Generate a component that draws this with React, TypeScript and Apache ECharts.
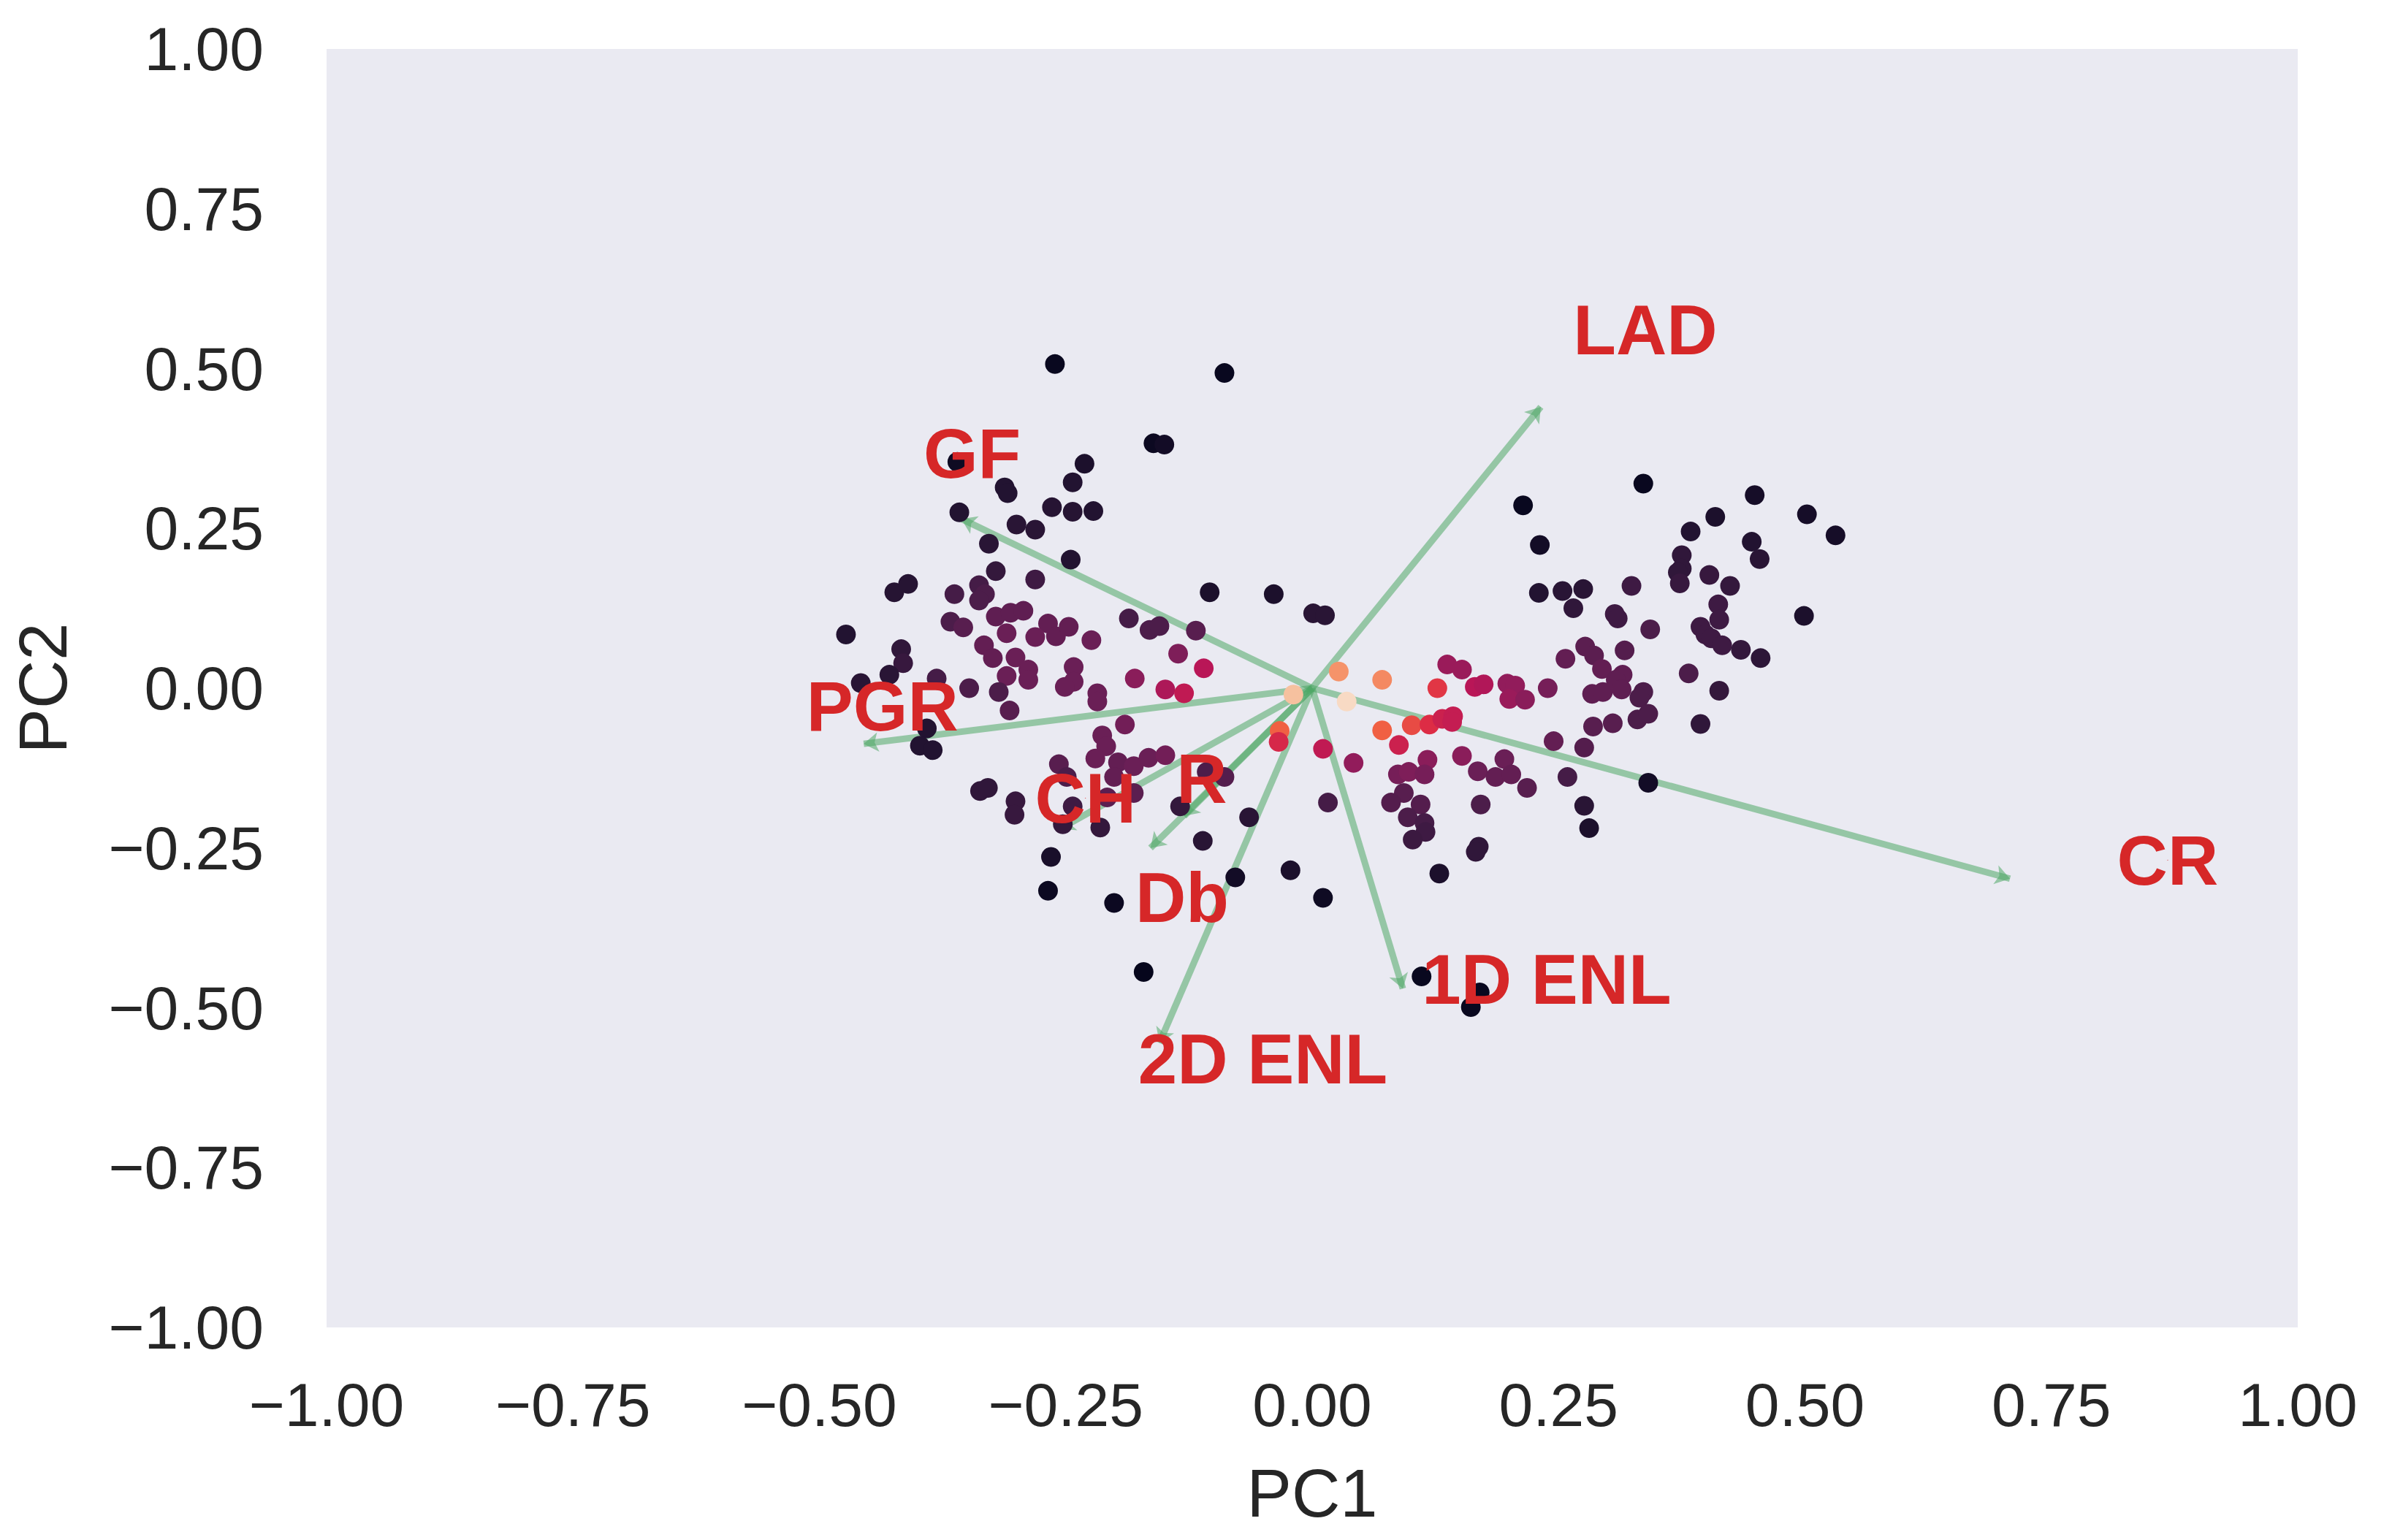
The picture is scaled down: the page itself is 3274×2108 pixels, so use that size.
import React, { useEffect, useRef } from "react";
import * as echarts from "echarts";

// PCA scores (PC1, PC2) and the colour variable (0..1 on the rocket scale)
const scoreX = [
  -0.261, -0.36, -0.312, -0.309, -0.231, -0.243, -0.358, -0.264, -0.243, -0.222,
  -0.3, -0.281, -0.328, -0.245, -0.321, -0.281, -0.424, -0.41, -0.363, -0.338,
  -0.332, -0.338, -0.473, -0.367, -0.354, -0.321, -0.306, -0.293, -0.31, -0.268,
  -0.281, -0.26, -0.247, -0.224, -0.186, -0.165, -0.155, -0.417, -0.415, -0.333,
  -0.324, -0.301, -0.288, -0.288, -0.31, -0.242, -0.242, -0.251, -0.18, -0.149,
  -0.429, -0.458, -0.381, -0.348, -0.318, -0.161, -0.15,
  -0.089, -0.104, -0.039, 0.001, 0.013, -0.118, -0.136, -0.11, -0.13, 0.027,
  0.071, 0.137, 0.152, 0.127, 0.165, 0.174, 0.198, 0.206, 0.2, 0.216,
  0.336, 0.214, 0.449, 0.409, 0.384, 0.502, 0.531, 0.231, 0.446, 0.454,
  0.375, 0.375, 0.371, 0.373, 0.403, 0.424, 0.23, 0.254, 0.275, 0.265,
  0.324, 0.307, 0.31, 0.343, 0.412, 0.413, 0.394, 0.399, 0.405, 0.416,
  0.435, 0.455, 0.499, 0.277, 0.286, 0.257, 0.317, 0.294, 0.315, 0.308,
  0.382, 0.239, 0.336, 0.332, 0.413, 0.284, 0.295, 0.314,
  0.285, 0.305, 0.33, 0.341, 0.394, 0.245, 0.276, 0.218, 0.259, 0.341, 0.276, 0.281,
  -0.019, 0.035, -0.033, -0.034, 0.011, 0.042, 0.071, 0.101, 0.088, 0.119,
  0.132, 0.143, 0.142, 0.117, 0.087, 0.098, 0.114, 0.152, 0.168, 0.186,
  0.195, 0.202, 0.093, 0.08, 0.11, 0.097, 0.114, 0.115, 0.102, 0.171,
  0.169, 0.166, 0.129, 0.016, -0.022, 0.011, -0.064, -0.111, -0.078, -0.134,
  -0.107, -0.089, 0.111, 0.17, 0.161,
  -0.307, -0.218, -0.218, -0.19, -0.213, -0.209, -0.22, -0.197, -0.181, -0.166,
  -0.149, -0.201, -0.181, -0.208, -0.257, -0.249, -0.243, -0.253, -0.215, -0.391,
  -0.398, -0.385, -0.337, -0.329, -0.301, -0.302, -0.265, -0.268, -0.201, -0.171,
];
const scoreY = [
  0.507, 0.354, 0.314, 0.305, 0.351, 0.322, 0.275, 0.283, 0.276, 0.277,
  0.256, 0.248, 0.226, 0.201, 0.183, 0.17, 0.15, 0.163, 0.147, 0.161,
  0.147, 0.137, 0.084, 0.104, 0.095, 0.112, 0.118, 0.121, 0.086, 0.101,
  0.08, 0.081, 0.096, 0.075, 0.109, 0.091, 0.097, 0.061, 0.039, 0.067,
  0.047, 0.048, 0.029, 0.013, 0.019, 0.033, 0.01, 0.002, 0.015, -0.002,
  0.021, 0.008, 0.015, 0.0, -0.006, 0.383, 0.381,
  0.493, 0.15, 0.147, 0.117, 0.114, 0.09, 0.054, 0.031, -0.008, 0.026,
  0.013, 0.037, 0.029, 0.0, 0.002, 0.006, 0.007, 0.004, -0.017, -0.018,
  0.32, 0.286, 0.302, 0.268, 0.245, 0.272, 0.239, 0.224, 0.229, 0.202,
  0.208, 0.187, 0.181, 0.164, 0.177, 0.16, 0.149, 0.152, 0.155, 0.125,
  0.16, 0.116, 0.109, 0.092, 0.131, 0.107, 0.096, 0.084, 0.078, 0.067,
  0.06, 0.047, 0.113, 0.065, 0.051, 0.046, 0.059, 0.03, 0.021, 0.013,
  0.023, 0.0, -0.006, -0.015, -0.004, -0.009, -0.006, -0.002,
  -0.06, -0.055, -0.049, -0.04, -0.056, -0.083, -0.093, -0.156, -0.139, -0.148, -0.184, -0.219,
  -0.01, -0.021, -0.067, -0.084, -0.095, -0.117, -0.066, -0.058, -0.089, -0.057,
  -0.048, -0.044, -0.053, -0.112, -0.135, -0.131, -0.135, -0.106, -0.13, -0.139,
  -0.111, -0.135, -0.164, -0.179, -0.182, -0.202, -0.211, -0.225, -0.237, -0.182,
  -0.248, -0.256, -0.29, -0.179, -0.285, -0.328, -0.202, -0.239, -0.296, -0.185,
  -0.131, -0.139, -0.451, -0.476, -0.499,
  -0.035, -0.008, -0.021, -0.057, -0.074, -0.091, -0.11, -0.116, -0.122, -0.109,
  -0.105, -0.139, -0.164, -0.171, -0.119, -0.139, -0.185, -0.213, -0.218, -0.063,
  -0.09, -0.097, -0.161, -0.156, -0.177, -0.198, -0.264, -0.317, -0.336, -0.444,
];
const scoreShade = [
  0.02, 0.04, 0.1, 0.1, 0.08, 0.1, 0.1, 0.11, 0.11, 0.1,
  0.12, 0.12, 0.12, 0.1, 0.15, 0.18, 0.11, 0.11, 0.2, 0.2,
  0.22, 0.22, 0.1, 0.22, 0.25, 0.27, 0.27, 0.27, 0.3, 0.28,
  0.3, 0.28, 0.28, 0.3, 0.2, 0.22, 0.22, 0.14, 0.16, 0.28,
  0.28, 0.3, 0.3, 0.3, 0.3, 0.3, 0.3, 0.3, 0.38, 0.47,
  0.12, 0.12, 0.2, 0.22, 0.22, 0.03, 0.05,
  0.02, 0.08, 0.08, 0.12, 0.12, 0.25, 0.35, 0.5, 0.52, 0.8,
  0.78, 0.42, 0.42, 0.62, 0.5, 0.48, 0.4, 0.4, 0.42, 0.38,
  0.02, 0.02, 0.06, 0.08, 0.1, 0.06, 0.06, 0.05, 0.1, 0.12,
  0.14, 0.14, 0.14, 0.16, 0.16, 0.15, 0.1, 0.12, 0.12, 0.14,
  0.18, 0.18, 0.18, 0.22, 0.18, 0.18, 0.18, 0.18, 0.18, 0.18,
  0.15, 0.13, 0.08, 0.26, 0.26, 0.28, 0.24, 0.28, 0.27, 0.27,
  0.22, 0.33, 0.22, 0.22, 0.15, 0.27, 0.27, 0.27,
  0.25, 0.25, 0.22, 0.22, 0.14, 0.28, 0.24, 0.25, 0.2, 0.05, 0.12, 0.08,
  0.9, 0.96, 0.7, 0.58, 0.52, 0.4, 0.7, 0.66, 0.55, 0.6,
  0.55, 0.53, 0.53, 0.38, 0.33, 0.35, 0.33, 0.38, 0.3, 0.28,
  0.3, 0.28, 0.25, 0.24, 0.24, 0.22, 0.2, 0.18, 0.17, 0.22,
  0.14, 0.14, 0.08, 0.2, 0.08, 0.04, 0.12, 0.12, 0.05, 0.15,
  0.22, 0.24, 0.02, 0.02, 0.02,
  0.25, 0.3, 0.3, 0.32, 0.3, 0.3, 0.3, 0.28, 0.3, 0.3,
  0.32, 0.28, 0.26, 0.26, 0.25, 0.22, 0.18, 0.15, 0.15, 0.1,
  0.1, 0.1, 0.14, 0.14, 0.16, 0.16, 0.07, 0.03, 0.03, 0.01,
];

// Loading vectors and where their names are written
const featureNames = ["GF", "PGR", "LAD", "CR", "1D ENL", "2D ENL", "Db", "CH", "R"];
const loadingX = [-0.356, -0.455, 0.232, 0.708, 0.092, -0.155, -0.164, -0.256, -0.13];
const loadingY = [0.265, -0.087, 0.44, -0.298, -0.47, -0.555, -0.25, -0.22, -0.2];
const labelX = [-0.345, -0.436, 0.338, 0.868, 0.238, -0.05, -0.132, -0.23, -0.112];
const labelY = [0.367, -0.028, 0.561, -0.269, -0.455, -0.58, -0.327, -0.172, -0.141];

const axisMin = -1;
const axisMax = 1;
const axisStep = 0.25;

const rocket = [
  "#03051A", "#221331", "#451C47", "#6A1F56", "#921C5B", "#B91657",
  "#DD2C45", "#F06043", "#F5936A", "#F6C19F", "#FAEBDD",
];

const FONT = "'Liberation Sans', Arial, Helvetica, sans-serif";
const fmt = (v: number) => (v < 0 ? "\u2212" : "") + Math.abs(v).toFixed(2);

export default function App() {
  const ref = useRef<HTMLDivElement>(null);
  useEffect(() => {
    if (!ref.current) return;
    const chart = echarts.init(ref.current, undefined, { renderer: "svg" });
    const points = scoreX.map((x, i) => [x, scoreY[i], scoreShade[i]]);
    const arrows = featureNames.map((n, i) => ({
      name: n,
      coords: [
        [0, 0],
        [loadingX[i], loadingY[i]],
      ],
    }));
    const labels = featureNames.map((n, i) => ({ name: n, value: [labelX[i], labelY[i]] }));
    const axisCommon = {
      type: "value",
      min: axisMin,
      max: axisMax,
      interval: axisStep,
      axisLine: { show: false },
      axisTick: { show: false },
      splitLine: { show: false },
      nameLocation: "middle",
      nameTextStyle: { fontSize: 92, color: "#262626", fontFamily: FONT },
    };
    chart.setOption({
      animation: false,
      backgroundColor: "#ffffff",
      grid: {
        left: 447,
        right: 129,
        top: 67,
        bottom: 291,
        show: true,
        backgroundColor: "#EAEAF2",
        borderWidth: 0,
      },
      xAxis: {
        ...axisCommon,
        name: "PC1",
        nameGap: 181,
        axisLabel: { fontSize: 84, color: "#262626", fontFamily: FONT, margin: 64, formatter: fmt },
      },
      yAxis: {
        ...axisCommon,
        name: "PC2",
        nameGap: 342,
        axisLabel: { fontSize: 84, color: "#262626", fontFamily: FONT, margin: 86, formatter: fmt },
      },
      visualMap: {
        show: false,
        type: "continuous",
        min: 0,
        max: 1,
        dimension: 2,
        seriesIndex: 0,
        inRange: { color: rocket },
      },
      series: [
        {
          type: "scatter",
          data: points,
          symbolSize: 27,
          silent: true,
          itemStyle: { opacity: 1 },
        },
        {
          type: "lines",
          coordinateSystem: "cartesian2d",
          data: arrows,
          silent: true,
          symbol: ["none", "arrow"],
          symbolSize: 20,
          lineStyle: { color: "#4FA866", width: 9, opacity: 0.55, curveness: 0 },
        },
        {
          type: "scatter",
          data: labels,
          symbolSize: 1,
          silent: true,
          itemStyle: { color: "#D62728", opacity: 1 },
          label: {
            show: true,
            position: "inside",
            formatter: "{b}",
            fontSize: 96,
            fontWeight: "bold",
            color: "#D62728",
            opacity: 1,
            textBorderWidth: 0,
            textBorderColor: "transparent",
            fontFamily: FONT,
          },
        },
      ],
    });
    return () => chart.dispose();
  }, []);
  return (
    <div
      ref={ref}
      style={{ position: "absolute", left: 0, top: 0, width: 3274, height: 2108 }}
    />
  );
}
